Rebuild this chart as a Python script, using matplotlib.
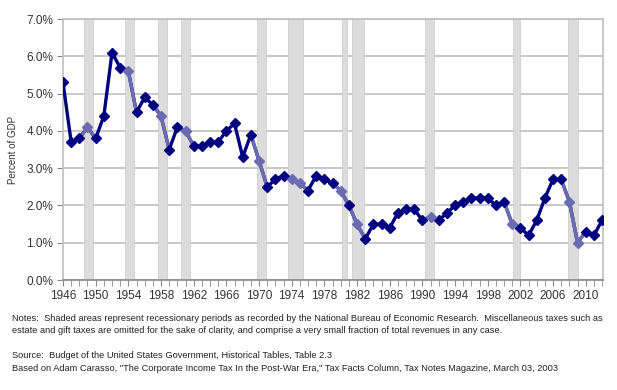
import numpy as np
import matplotlib
matplotlib.use("Agg")
from matplotlib import pyplot as plt
from matplotlib.ticker import MultipleLocator, FixedLocator, FuncFormatter

years = list(range(1946, 2013))
corp_tax = [5.3, 3.7, 3.8, 4.1, 3.8, 4.4, 6.1, 5.7, 5.6, 4.5,
            4.9, 4.7, 4.4, 3.5, 4.1, 4.0, 3.6, 3.6, 3.7, 3.7,
            4.0, 4.2, 3.3, 3.9, 3.2, 2.5, 2.7, 2.8, 2.7, 2.6,
            2.4, 2.8, 2.7, 2.6, 2.4, 2.0, 1.5, 1.1, 1.5, 1.5,
            1.4, 1.8, 1.9, 1.9, 1.6, 1.7, 1.6, 1.8, 2.0, 2.1,
            2.2, 2.2, 2.2, 2.0, 2.1, 1.5, 1.4, 1.2, 1.6, 2.2,
            2.7, 2.7, 2.1, 1.0, 1.3, 1.2, 1.6]
recession_years = [1949, 1954, 1958, 1961, 1970, 1974, 1975, 1980, 1982, 1991, 2001, 2008, 2009]
# shaded NBER recession bands (start, end) in fractional years
recessions = [(1948.6, 1949.7), (1953.6, 1954.7), (1957.6, 1958.7), (1960.5, 1961.6),
              (1969.7, 1970.8), (1973.6, 1975.4), (1980.1, 1980.8), (1981.4, 1982.8),
              (1990.3, 1991.4), (2001.1, 2001.9), (2007.8, 2009.1)]
label_years = list(range(1946, 2013, 4))

notes = ("Notes:  Shaded areas represent recessionary periods as recorded by the National Bureau of Economic Research.  "
         "Miscellaneous taxes such as\nestate and gift taxes are omitted for the sake of clarity, and comprise a very "
         "small fraction of total revenues in any case.")
source = ("Source:  Budget of the United States Government, Historical Tables, Table 2.3\n"
          "Based on Adam Carasso, \"The Corporate Income Tax In the Post-War Era,\" Tax Facts Column, "
          "Tax Notes Magazine, March 03, 2003")

dark = '#000080'
light = '#6b6bb0'
grid_c = '#bfbfbf'

fig = plt.figure(figsize=(6.17, 3.9), dpi=100)
ax = fig.add_axes([0.1021, 0.282, 0.875, 0.669])

for s, e in recessions:
    ax.axvspan(s, e, ymin=0, ymax=1, facecolor='#dcdcdc', edgecolor='#cfcfcf', lw=0.6, zorder=1)

ax.plot(years, corp_tax, color=dark, lw=2.4, zorder=3)
# lighter segments around recession years
for yr in recession_years:
    i = years.index(yr)
    lo, hi = max(i - 1, 0), min(i + 2, len(years))
    ax.plot(years[lo:hi], corp_tax[lo:hi], color=light, lw=2.4, zorder=4)

norm_x = [y for y in years if y not in recession_years]
norm_y = [v for y, v in zip(years, corp_tax) if y not in recession_years]
rec_y = [corp_tax[years.index(y)] for y in recession_years]
ax.plot(norm_x, norm_y, 'D', color=dark, ms=5.5, zorder=5)
ax.plot(recession_years, rec_y, 'D', color=light, ms=5.5, zorder=5)

ax.set_xlim(1946, 2012.1)
ax.set_ylim(0, 7)
ax.yaxis.set_major_locator(MultipleLocator(1))
ax.yaxis.set_major_formatter(FuncFormatter(lambda v, p: '%.1f%%' % v))
ax.xaxis.set_major_locator(FixedLocator(label_years))
ax.xaxis.set_major_formatter(FuncFormatter(lambda v, p: '%d' % v))
ax.xaxis.set_minor_locator(MultipleLocator(1))
ax.grid(axis='y', color=grid_c, lw=1.2, zorder=0)
ax.set_axisbelow(True)
for sp in ax.spines.values():
    sp.set_color(grid_c)
    sp.set_linewidth(1.2)
ax.spines['bottom'].set_color('#888888')
ax.tick_params(axis='x', which='both', length=4, color='#888888', labelsize=8.5, pad=3)
ax.tick_params(axis='y', length=4, color='#888888', labelsize=8.5, pad=3)
for lab in ax.get_xticklabels() + ax.get_yticklabels():
    lab.set_family('Liberation Sans')
    lab.set_color('#333333')
ax.set_ylabel('Percent of GDP', fontsize=7, family='Liberation Sans', color='#333333', labelpad=6)

fig.text(0.019, 1 - 324.5 / 390, notes, fontsize=6.65, family='Liberation Sans',
         va='center', linespacing=1.45, color='#222222')
fig.text(0.019, 1 - 362 / 390, source, fontsize=6.65, family='Liberation Sans',
         va='center', linespacing=1.45, color='#222222')

fig.savefig('out.png', dpi=100)
